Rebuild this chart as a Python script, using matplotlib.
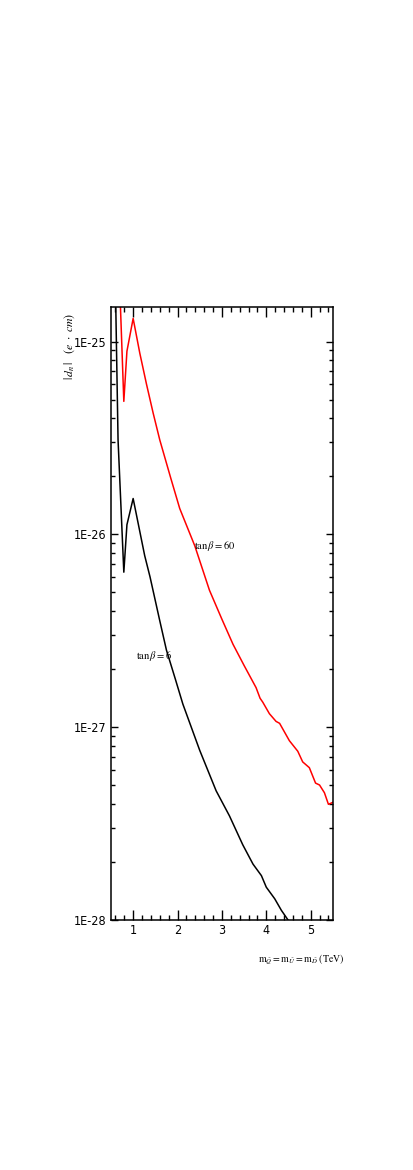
import numpy as np
import matplotlib
matplotlib.use('Agg')
import matplotlib.pyplot as plt
from matplotlib.ticker import MultipleLocator, LogLocator, FixedLocator, NullFormatter

plt.rcParams['font.family'] = ['Liberation Sans Narrow', 'DejaVu Sans']
plt.rcParams['font.stretch'] = 'condensed'
plt.rcParams['mathtext.fontset'] = 'stix'

# neutron EDM vs common squark mass (log10 values)
m_red = [0.68, 0.79, 0.86, 1.00, 1.15, 1.30, 1.45, 1.60, 1.70, 1.85, 2.05, 2.39, 2.72,
         3.00, 3.25, 3.50, 3.77, 3.86, 3.92, 4.07, 4.22, 4.30, 4.52, 4.71, 4.82, 4.97,
         5.11, 5.20, 5.31, 5.40, 5.50]
logd_red = [-24.60, -25.31, -25.05, -24.88, -25.06, -25.22, -25.37, -25.51, -25.59,
            -25.71, -25.866, -26.06, -26.29, -26.44, -26.57, -26.68, -26.795, -26.85,
            -26.87, -26.93, -26.97, -26.98, -27.07, -27.125, -27.18, -27.21, -27.29,
            -27.30, -27.34, -27.40, -27.39]

m_black = [0.60, 0.66, 0.79, 0.86, 1.00, 1.26, 1.38, 1.60, 1.75, 1.95, 2.12, 2.50,
           2.87, 3.17, 3.47, 3.70, 3.89, 4.00, 4.19, 4.34, 4.49, 4.55]
logd_black = [-24.70, -25.51, -26.196, -25.95, -25.814, -26.11, -26.22, -26.448, -26.60,
              -26.75, -26.88, -27.12, -27.33, -27.46, -27.61, -27.71, -27.77, -27.83,
              -27.89, -27.95, -28.00, -28.05]

ytick_vals = [1e-28, 1e-27, 1e-26, 1e-25]
ytick_labels = ['1E-28', '1E-27', '1E-26', '1E-25']

d_red = 10.0 ** np.array(logd_red)
d_black = 10.0 ** np.array(logd_black)

fig = plt.figure(figsize=(4.14, 11.7), dpi=100)
ax = fig.add_axes([0.268, 0.2137, 0.536, 0.524])

ax.plot(m_red, d_red, color='red', lw=1.1)
ax.plot(m_black, d_black, color='black', lw=1.1)

ax.set_yscale('log')
ax.set_xlim(0.5, 5.5)
ax.set_ylim(1e-28, 10 ** -24.82)

ax.xaxis.set_major_locator(MultipleLocator(1))
ax.xaxis.set_minor_locator(MultipleLocator(0.2))
ax.yaxis.set_major_locator(FixedLocator(ytick_vals))
ax.set_yticklabels(ytick_labels)
ax.yaxis.set_minor_locator(LogLocator(base=10, subs=np.arange(2, 10)))
ax.yaxis.set_minor_formatter(NullFormatter())

ax.tick_params(axis='both', which='both', direction='in', top=True, right=True,
               labelsize=9, width=1.0, pad=3)
ax.tick_params(axis='x', which='major', length=7)
ax.tick_params(axis='x', which='minor', length=3.5)
ax.tick_params(axis='y', which='major', length=5)
ax.tick_params(axis='y', which='minor', length=3)
for s in ax.spines.values():
    s.set_linewidth(1.1)

ax.text(2.37, 10 ** -26.06, r'$\mathrm{tan}\,\beta = 60$', fontsize=7.5, va='center', ha='left')
ax.text(1.06, 10 ** -26.63, r'$\mathrm{tan}\,\beta = 6$', fontsize=7.5, va='center', ha='left')

ax.text(-0.185, 0.935, r'$|\,d_n\,|\ \ \ (e\ \cdot\ cm)$', transform=ax.transAxes,
        rotation=90, fontsize=8.5, ha='center', va='center')
ax.text(1.054, -0.065,
        r'$\mathrm{m}_{\tilde{Q}}=\mathrm{m}_{\tilde{U}}=\mathrm{m}_{\tilde{D}}\ \mathrm{(TeV)}$',
        transform=ax.transAxes, fontsize=7, ha='right', va='center')

fig.savefig('out.png', dpi=100)
